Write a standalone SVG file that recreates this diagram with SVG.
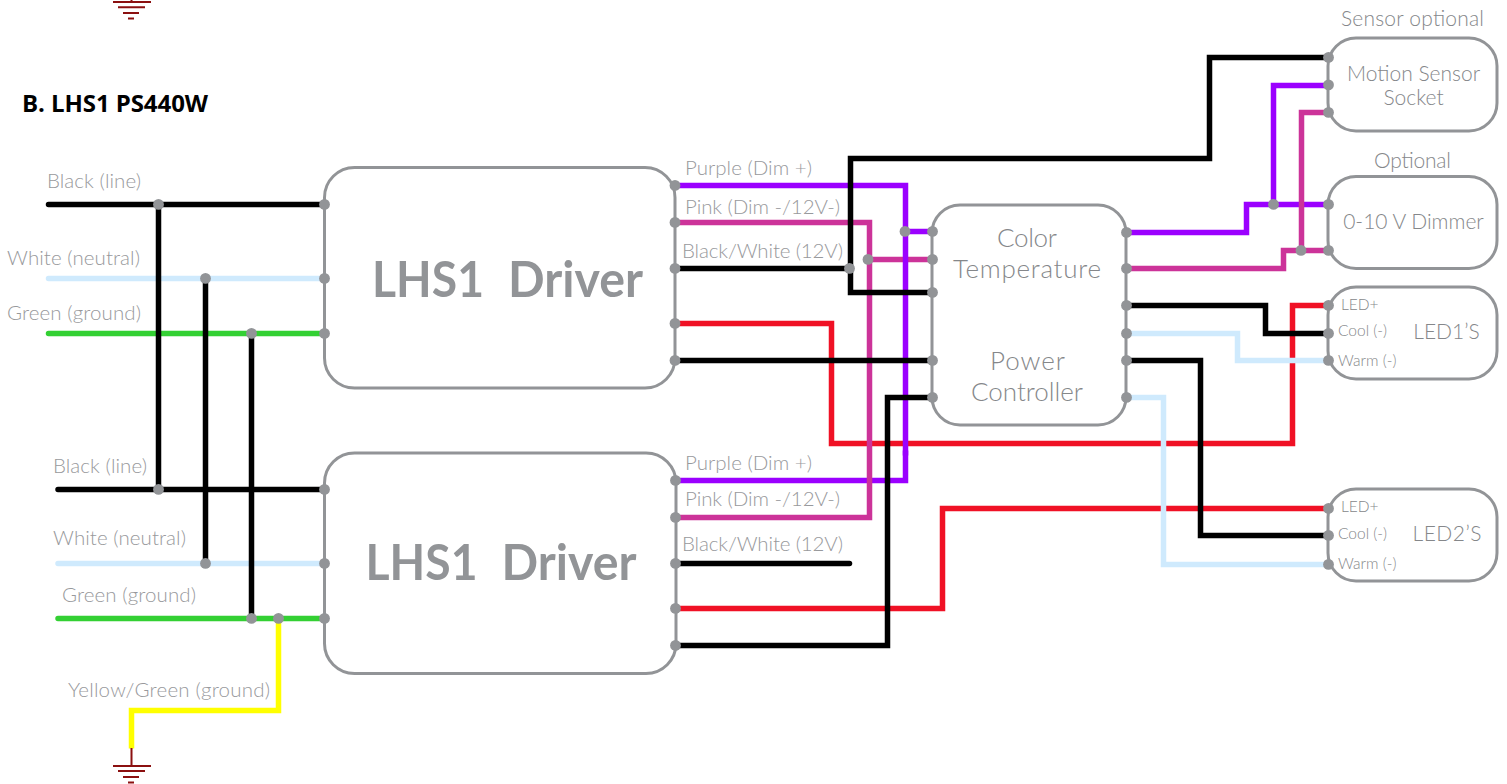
<svg xmlns="http://www.w3.org/2000/svg" width="1507" height="784" viewBox="0 0 1507 784">
<style>
.box{fill:#fff;stroke:#929497;stroke-width:3}
.w{fill:none;stroke-width:5.500;stroke-linejoin:miter}
.k{stroke:#000}.lb{stroke:#cfeafd}.g{stroke:#33d033}.r{stroke:#f01125}.p{stroke:#9b00ff}.m{stroke:#cc3399}.y{stroke:#ffff00}
.rd{stroke-linecap:round}
.d{fill:#929497}
text{font-family:"Lato","Liberation Sans",sans-serif;fill:#98999c;font-weight:300}
.t{font-size:20.500px}
.t2{font-size:21px;fill:#85878a}
.c{font-size:26px;fill:#85878a}
.m2{font-size:21px;fill:#85878a;text-anchor:middle}
.s{font-size:15.500px;fill:#85878a}
.h{font-size:50px;font-weight:700;fill:#929497}
.gnd{stroke:#8b1010;stroke-width:2;fill:none}
</style>
<g id="driver1"><rect class="box" x="324.500" y="167.500" width="350.500" height="220.500" rx="30"/><text class="h" x="372" y="297" textLength="112" lengthAdjust="spacingAndGlyphs">LHS1</text><text class="h" x="508" y="297" textLength="135" lengthAdjust="spacingAndGlyphs">Driver</text></g>
<g id="driver2"><rect class="box" x="324.500" y="453" width="351.500" height="220.500" rx="30"/><text class="h" x="365.500" y="580" textLength="112" lengthAdjust="spacingAndGlyphs">LHS1</text><text class="h" x="501.500" y="580" textLength="135" lengthAdjust="spacingAndGlyphs">Driver</text></g>
<g id="controller"><rect class="box" x="932" y="205" width="194" height="220" rx="28"/><text class="c" x="997" y="247" textLength="60">Color</text><text class="c" x="953" y="278" textLength="148">Temperature</text><text class="c" x="990" y="370" textLength="75">Power</text><text class="c" x="971" y="401" textLength="112">Controller</text></g>
<g id="motion"><rect class="box" x="1328" y="38" width="169" height="93" rx="28"/><text class="m2" x="1413.500" y="81">Motion Sensor</text><text class="m2" x="1413.500" y="105">Socket</text></g>
<g id="dimmer"><rect class="box" x="1328" y="176.500" width="169" height="92" rx="28"/><text class="m2" x="1413.500" y="229">0-10 V Dimmer</text></g>
<g id="led1"><rect class="box" x="1328" y="287" width="169" height="92" rx="28"/><text class="s" x="1341" y="310">LED+</text><text class="s" x="1338" y="336">Cool (-)</text><text class="s" x="1338" y="366">Warm (-)</text><text class="m2" x="1446.500" y="339">LED1’S</text></g>
<g id="led2"><rect class="box" x="1328" y="489" width="169" height="92" rx="28"/><text class="s" x="1341" y="512">LED+</text><text class="s" x="1338" y="539">Cool (-)</text><text class="s" x="1338" y="569">Warm (-)</text><text class="m2" x="1447" y="541" textLength="69">LED2’S</text></g>
<g id="connectors" transform="translate(0.500 0.400)">
<path class="w lb rd" d="M48 278H324M57.500 563H324"/>
<path class="w g rd" d="M48 333H324M57.500 618H324"/>
<path class="w k rd" d="M48 204H324M57.500 489H324"/>
<path class="w k" d="M158 204V489M205 278V563M251 333V618"/>
<path class="w y" d="M278 618V710H131V748"/>
<path class="w r" d="M675 323H831V443H1292V305H1328"/>
<path class="w r" d="M676 608H942V508H1328"/>
<path class="w p" d="M905 450V480H676"/>
<path class="w m" d="M675 222H869V517H676M868 259H932"/>
<path class="w p" d="M675 185H905V455M905 231H932"/>
<path class="w k" d="M675 268H849"/>
<path class="w k" d="M1328 57H1209V158H850V292H932"/>
<path class="w k" d="M675 360H932"/>
<path class="w k rd" d="M676 563H849"/>
<path class="w k" d="M676 645H887V397H932"/>
<path class="w p" d="M1126 232H1246V204H1328M1273 204V85H1328"/>
<path class="w m" d="M1126 268H1283V250H1328M1301 250V112H1328"/>
<path class="w k" d="M1126 305H1265V333H1328"/>
<path class="w lb" d="M1126 333H1237V360H1328"/>
<path class="w lb" d="M1126 397H1163V564H1328"/>
<path class="w k" d="M1126 360H1200V535H1328"/>
</g>
<g id="junctions" transform="translate(0.500 0.400)">
<circle class="d" cx="158" cy="204" r="5.400"/><circle class="d" cx="324" cy="204" r="5.400"/><circle class="d" cx="205" cy="278" r="5.400"/><circle class="d" cx="324" cy="278" r="5.400"/><circle class="d" cx="251" cy="333" r="5.400"/><circle class="d" cx="324" cy="333" r="5.400"/>
<circle class="d" cx="158" cy="489" r="5.400"/><circle class="d" cx="324" cy="489" r="5.400"/><circle class="d" cx="205" cy="563" r="5.400"/><circle class="d" cx="324" cy="563" r="5.400"/><circle class="d" cx="251" cy="618" r="5.400"/><circle class="d" cx="278" cy="618" r="5.400"/><circle class="d" cx="324" cy="618" r="5.400"/>
<circle class="d" cx="674.500" cy="185" r="5.400"/><circle class="d" cx="674.500" cy="222" r="5.400"/><circle class="d" cx="674.500" cy="268" r="5.400"/><circle class="d" cx="674.500" cy="323" r="5.400"/><circle class="d" cx="674.500" cy="360" r="5.400"/>
<circle class="d" cx="675" cy="480" r="5.400"/><circle class="d" cx="675" cy="517" r="5.400"/><circle class="d" cx="675" cy="563" r="5.400"/><circle class="d" cx="675" cy="608" r="5.400"/><circle class="d" cx="675" cy="645" r="5.400"/>
<circle class="d" cx="849" cy="268" r="5.400"/><circle class="d" cx="904.500" cy="231" r="5.400"/><circle class="d" cx="867.500" cy="259" r="5.400"/>
<circle class="d" cx="932" cy="231" r="5.400"/><circle class="d" cx="932" cy="259" r="5.400"/><circle class="d" cx="932" cy="292" r="5.400"/><circle class="d" cx="932" cy="360" r="5.400"/><circle class="d" cx="932" cy="397" r="5.400"/>
<circle class="d" cx="1126" cy="232" r="5.400"/><circle class="d" cx="1126" cy="268" r="5.400"/><circle class="d" cx="1126" cy="305" r="5.400"/><circle class="d" cx="1126" cy="333" r="5.400"/><circle class="d" cx="1126" cy="360" r="5.400"/><circle class="d" cx="1126" cy="397" r="5.400"/>
<circle class="d" cx="1273" cy="204" r="5.400"/><circle class="d" cx="1300.500" cy="250" r="5.400"/>
<circle class="d" cx="1328" cy="57" r="5.400"/><circle class="d" cx="1328" cy="84.500" r="5.400"/><circle class="d" cx="1328" cy="112" r="5.400"/><circle class="d" cx="1328" cy="204" r="5.400"/><circle class="d" cx="1328" cy="250" r="5.400"/>
<circle class="d" cx="1328" cy="305" r="5.400"/><circle class="d" cx="1328" cy="333" r="5.400"/><circle class="d" cx="1328" cy="360" r="5.400"/><circle class="d" cx="1328" cy="508" r="5.400"/><circle class="d" cx="1328" cy="535" r="5.400"/><circle class="d" cx="1328" cy="564" r="5.400"/>
</g>
<g id="ground-top"><path class="gnd" d="M131.500 0V2M113 2H151M118 7.300H145M123 13H139M128 18.500H134"/></g>
<g id="ground-bottom"><path class="gnd" d="M131.500 748V766M113 766H151M118 771H145M123 777H139M128 782.500H134"/></g>
<g id="labels">
<text x="22" y="112" style="font-family:'Open Sans',sans-serif;font-weight:700;font-size:24px;fill:#000" textLength="186">B. LHS1 PS440W</text>
<text class="t" x="47" y="188" textLength="94">Black (line)</text><text class="t" x="7" y="265" textLength="133">White (neutral)</text><text class="t" x="7" y="320" textLength="134">Green (ground)</text>
<text class="t" x="53" y="473" textLength="94">Black (line)</text><text class="t" x="53" y="545" textLength="133">White (neutral)</text><text class="t" x="62" y="602" textLength="134">Green (ground)</text><text class="t" x="68" y="697" textLength="202">Yellow/Green (ground)</text>
<text class="t" x="685" y="175" textLength="127">Purple (Dim +)</text><text class="t" x="685" y="214" textLength="155">Pink (Dim -/12V-)</text><text class="t" x="682" y="258" textLength="161">Black/White (12V)</text>
<text class="t" x="685" y="470" textLength="127">Purple (Dim +)</text><text class="t" x="685" y="506" textLength="155">Pink (Dim -/12V-)</text><text class="t" x="682" y="551" textLength="161">Black/White (12V)</text>
<text class="t2" x="1341" y="26" textLength="143">Sensor optional</text><text class="t2" x="1374" y="168" textLength="77">Optional</text>
</g>
</svg>
